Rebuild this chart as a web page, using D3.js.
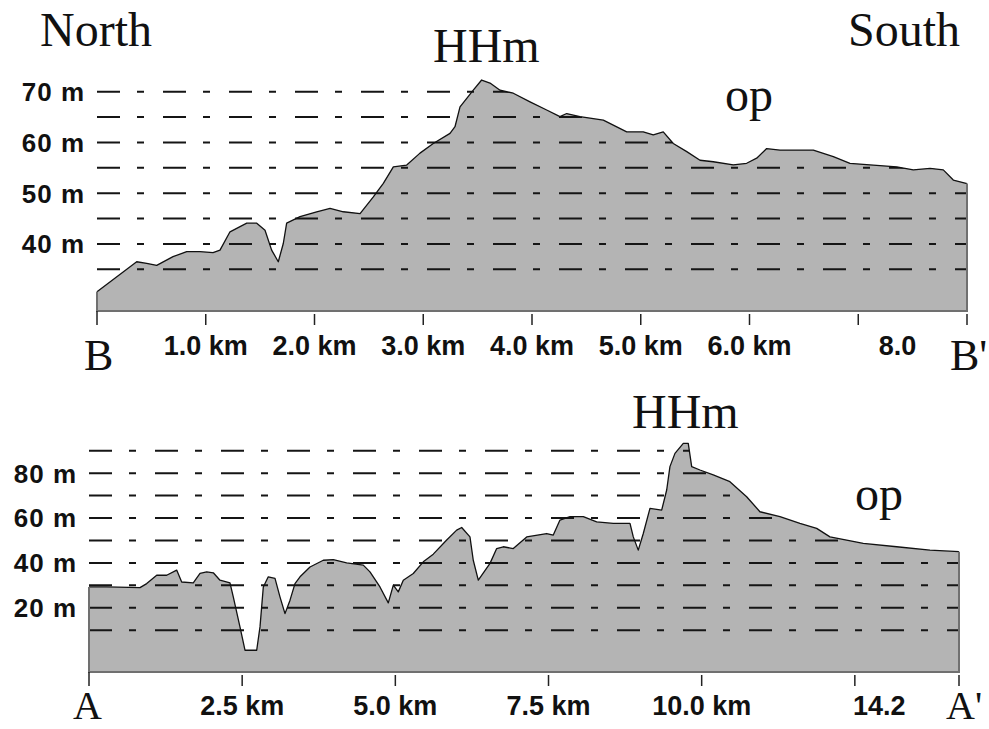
<!DOCTYPE html>
<html>
<head>
<meta charset="utf-8">
<script src="https://cdn.jsdelivr.net/npm/d3@7"></script>
<style>
	body { margin: 0; background: #fff; }
	.tick-label { font-family: 'Liberation Sans', Arial, sans-serif; font-weight: bold; font-size: 27px; fill: #111; }
	.elev-label { font-family: 'Liberation Sans', Arial, sans-serif; font-weight: bold; font-size: 26px; letter-spacing: 1px; fill: #111; }
	.serif { font-family: 'Liberation Serif', 'Times New Roman', serif; fill: #111; }
</style>
</head>
<body>
<svg id="chart" width="989" height="729"></svg>
<script>
// profile B - B' (North -> South), distance in km, elevation in m
const profileBKm = [0, 0.365, 0.457, 0.549, 0.699, 0.825, 0.947, 1.067, 1.131, 1.223, 1.377, 1.469, 1.545, 1.606, 1.667,
	1.713, 1.744, 1.867, 2.02, 2.143, 2.265, 2.419, 2.541, 2.633, 2.725, 2.848, 2.97, 3.092, 3.246, 3.292, 3.338,
	3.46, 3.537, 3.614, 3.706, 3.828, 3.982, 4.135, 4.257, 4.319, 4.441, 4.656, 4.871, 5.023, 5.115, 5.207, 5.299,
	5.423, 5.545, 5.667, 5.851, 5.974, 6.066, 6.158, 6.28, 6.434, 6.587, 6.771, 6.924, 7.138, 7.354, 7.506, 7.66,
	7.782, 7.874, 8.0];
const profileBElev = [30.6, 36.5, 36.2, 35.8, 37.5, 38.5, 38.5, 38.3, 38.8, 42.4, 44.1, 44.1, 42.7, 38.8, 36.5,
	40.1, 44.1, 45.4, 46.35, 47.0, 46.35, 46.0, 49.3, 51.95, 55.2, 55.55, 57.9, 59.8, 61.8, 63.1, 67.0,
	70.3, 72.3, 71.7, 70.3, 69.7, 68.0, 66.4, 65.1, 65.7, 65.1, 64.4, 62.1, 62.1, 61.5, 62.1, 59.8,
	58.2, 56.5, 56.2, 55.6, 55.9, 56.9, 58.8, 58.5, 58.5, 58.5, 57.2, 55.9, 55.55, 55.2, 54.6, 54.9,
	54.6, 52.6, 51.9];
const profileBTicks = [0, 1, 2, 3, 4, 5, 6, 7, 8];
const profileBTickKm = [1, 2, 3, 4, 5, 6, 7.36];
const profileBTickText = ['1.0 km', '2.0 km', '3.0 km', '4.0 km', '5.0 km', '6.0 km', '8.0'];
const profileBGrid = [35, 40, 45, 50, 55, 60, 65, 70];
const profileBElevLabels = [40, 50, 60, 70];

// profile A - A'
const profileAKm = [0, 0.289, 0.832, 0.942, 1.105, 1.268, 1.431, 1.513, 1.702, 1.812, 1.921, 2.029, 2.138, 2.301,
	2.355, 2.464, 2.546, 2.737, 2.791, 2.845, 2.926, 3.036, 3.117, 3.199, 3.281, 3.362, 3.444, 3.607, 3.824,
	3.987, 4.206, 4.477, 4.586, 4.749, 4.885, 4.967, 5.048, 5.13, 5.293, 5.456, 5.619, 5.838, 6.001, 6.083,
	6.218, 6.272, 6.354, 6.545, 6.654, 6.762, 6.925, 7.144, 7.47, 7.578, 7.687, 7.851, 8.068, 8.286, 8.557,
	8.83, 8.884, 8.965, 9.047, 9.156, 9.347, 9.429, 9.482, 9.564, 9.7, 9.781, 9.837, 9.972, 10.189, 10.461,
	10.734, 10.951, 11.278, 11.604, 11.877, 12.094, 12.366, 12.637, 13.183, 13.726, 14.2];
const profileAElev = [29.3, 29.3, 29.0, 30.8, 34.5, 34.5, 36.8, 31.5, 31.1, 35.3, 36.0, 35.6, 32.3, 31.1,
	24.9, 11.5, 1.1, 1.1, 11.5, 29.3, 33.8, 33.1, 24.9, 17.4, 23.4, 30.8, 33.8, 38.2, 41.2,
	41.5, 40.0, 39.0, 36.0, 29.3, 22.2, 30.1, 27.1, 32.3, 35.3, 40.5, 43.9, 50.2, 54.6, 55.8,
	51.6, 41.2, 32.3, 39.8, 46.4, 47.2, 46.4, 51.6, 53.1, 52.4, 59.1, 60.6, 60.6, 58.3, 57.6,
	57.6, 51.6, 45.7, 53.1, 64.3, 63.5, 72.5, 82.9, 88.8, 93.3, 93.3, 82.9, 81.4, 79.2, 76.2,
	69.5, 62.8, 60.6, 57.6, 55.4, 51.6, 50.2, 48.7, 47.2, 45.7, 45.0];
const profileATicks = [0, 2.5, 5, 7.5, 10, 12.5, 14.2];
const profileATickKm = [2.5, 5, 7.5, 10, 12.9];
const profileATickText = ['2.5 km', '5.0 km', '7.5 km', '10.0 km', '14.2'];
const profileAGrid = [10, 20, 30, 40, 50, 60, 70, 80, 90];
const profileAElevLabels = [20, 40, 60, 80];

const svg = d3.select('#chart');

drawProfile({
	id: 'b',
	km: profileBKm,
	elev: profileBElev,
	xDomain: [0, 8],
	xRange: [97, 967],
	yDomain: [26.8, 70],
	yRange: [311, 91.7],
	ticks: profileBTicks,
	tickKm: profileBTickKm,
	tickText: profileBTickText,
	tickLabelY: 355,
	grid: profileBGrid,
	elevLabels: profileBElevLabels
});

drawProfile({
	id: 'a',
	km: profileAKm,
	elev: profileAElev,
	xDomain: [0, 14.2],
	xRange: [89, 959],
	yDomain: [-8.6, 90],
	yRange: [672, 450.7],
	ticks: profileATicks,
	tickKm: profileATickKm,
	tickText: profileATickText,
	tickLabelY: 715,
	grid: profileAGrid,
	elevLabels: profileAElevLabels
});

// annotations
function note(txt, x, y, size) {
	svg.append('text')
		.attr('class', 'serif')
		.attr('x', x)
		.attr('y', y)
		.attr('font-size', size)
		.text(txt);
}
note('North', 40, 46, 48);
note('South', 848, 46, 48);
note('HHm', 433, 62, 48);
note('op', 725, 111, 48);
note('B', 84, 370, 44);
note("B'", 950, 370, 44);
note('HHm', 632, 428, 48);
note('op', 855, 510, 48);
note('A', 73, 719, 40);
note("A'", 946, 719, 40);

function drawProfile(opts) {
	const data = opts.km.map((k, i) => ({ km: k, m: opts.elev[i] }));
	const x = d3.scaleLinear(opts.xDomain, opts.xRange);
	const y = d3.scaleLinear(opts.yDomain, opts.yRange);
	const base = y(opts.yDomain[0]);
	const g = svg.append('g');

	const area = d3.area()
		.x((d) => x(d.km))
		.y0(base)
		.y1((d) => y(d.m));
	const line = d3.line()
		.x((d) => x(d.km))
		.y((d) => y(d.m));

	g.append('path')
		.datum(data)
		.attr('fill', '#b4b4b4')
		.attr('d', area);

	// dashed levels: visible under the ground and left of the summit
	const peak = data[d3.maxIndex(data, (d) => d.m)];
	const clip = svg.append('clipPath').attr('id', 'clip-' + opts.id);
	clip.append('path').datum(data).attr('d', area);
	clip.append('rect')
		.attr('x', x(opts.xDomain[0]))
		.attr('y', 0)
		.attr('width', x(peak.km) - x(opts.xDomain[0]))
		.attr('height', base);

	g.append('g')
		.attr('clip-path', 'url(#clip-' + opts.id + ')')
		.selectAll('line')
		.data(opts.grid)
		.enter().append('line')
		.attr('x1', x(opts.xDomain[0]))
		.attr('x2', x(opts.xDomain[1]))
		.attr('y1', (d) => y(d))
		.attr('y2', (d) => y(d))
		.attr('stroke', '#151515')
		.attr('stroke-width', 2)
		.attr('stroke-dasharray', '23,17,7,19');

	g.append('path')
		.datum(data)
		.attr('fill', 'none')
		.attr('stroke', '#111')
		.attr('stroke-width', 1.3)
		.attr('stroke-linejoin', 'round')
		.attr('d', line);

	// frame: left edge, ground line, right edge
	const first = data[0], last = data[data.length - 1];
	g.append('path')
		.attr('fill', 'none')
		.attr('stroke', '#707070')
		.attr('stroke-width', 2)
		.attr('d', 'M' + x(first.km) + ',' + y(first.m) + 'V' + base + 'H' + x(last.km) + 'V' + y(last.m));

	// km ticks
	g.selectAll('.km-tick')
		.data(opts.ticks)
		.enter().append('line')
		.attr('class', 'km-tick')
		.attr('x1', (d) => x(d))
		.attr('x2', (d) => x(d))
		.attr('y1', (d, i) => i === 0 ? base : base + 3)
		.attr('y2', base + 14)
		.attr('stroke', '#222')
		.attr('stroke-width', 1.5);

	g.selectAll('.tick-label')
		.data(opts.tickKm)
		.enter().append('text')
		.attr('class', 'tick-label')
		.attr('x', (d) => x(d))
		.attr('y', opts.tickLabelY)
		.attr('text-anchor', 'middle')
		.text((d, i) => opts.tickText[i]);

	g.selectAll('.elev-label')
		.data(opts.elevLabels)
		.enter().append('text')
		.attr('class', 'elev-label')
		.attr('x', x(opts.xDomain[0]) - 12)
		.attr('y', (d) => y(d))
		.attr('dy', '0.36em')
		.attr('text-anchor', 'end')
		.text((d) => d + ' m');
}
</script>
</body>
</html>
